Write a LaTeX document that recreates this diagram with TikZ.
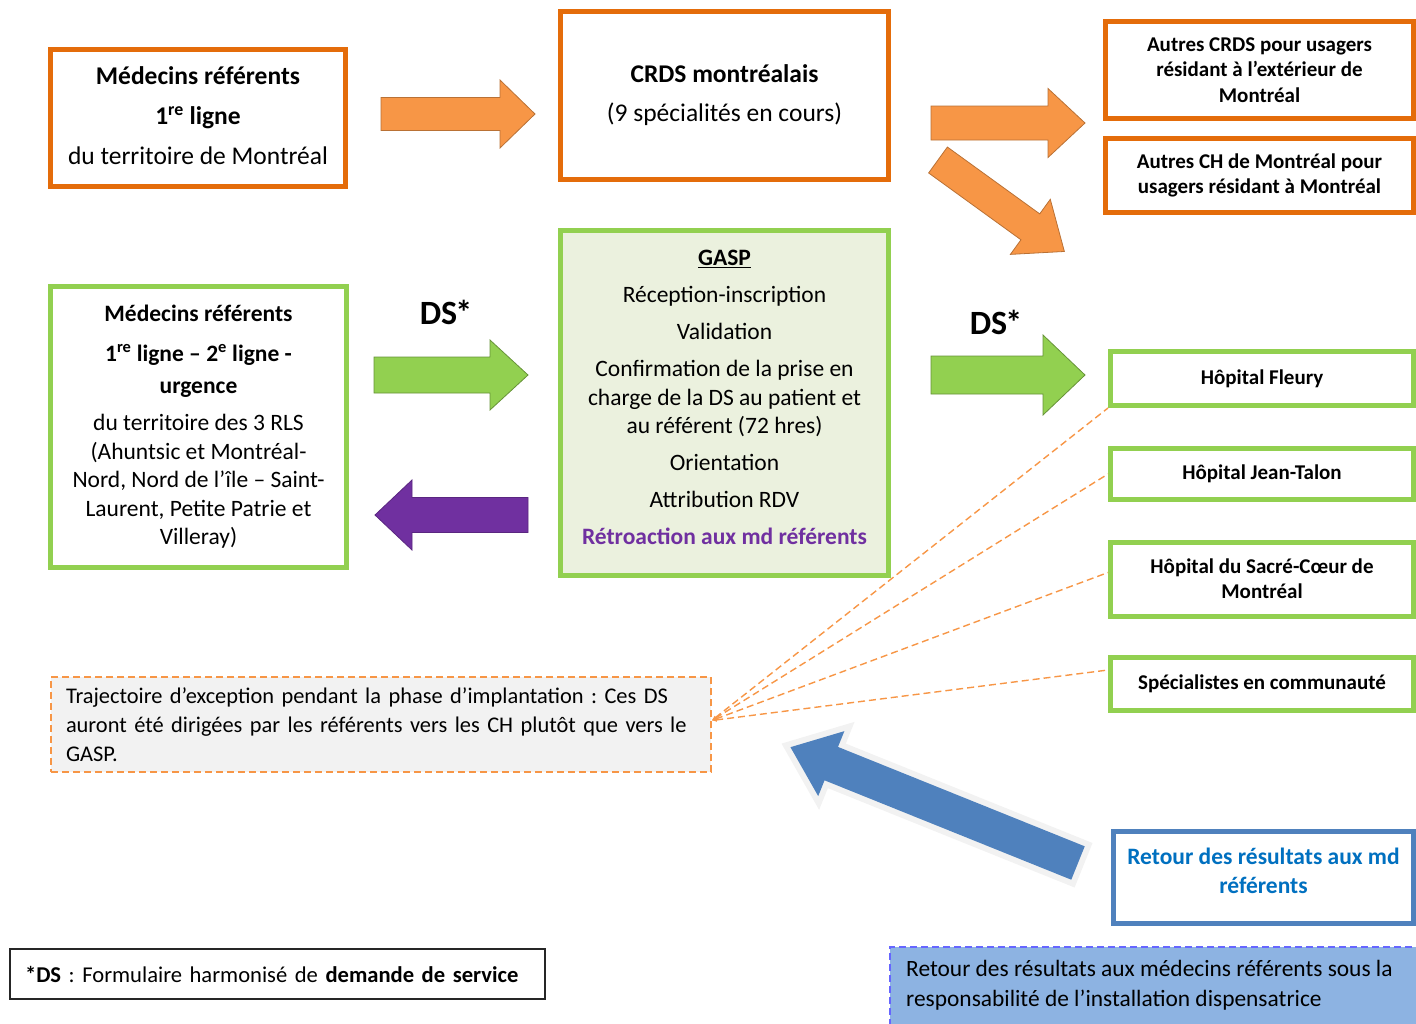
\documentclass[tikz,border=0pt]{standalone}
\usepackage{fontspec}
\setmainfont{Carlito}
\usetikzlibrary{arrows.meta,backgrounds,calc}
\frenchspacing

\definecolor{orangeBord}{HTML}{E46C0A}
\definecolor{orangeFill}{HTML}{F79646}
\definecolor{vert}{HTML}{92D050}
\definecolor{vertPale}{HTML}{EBF1DE}
\definecolor{violet}{HTML}{7030A0}
\definecolor{bleuFl}{HTML}{4F81BD}
\definecolor{bleuTxt}{HTML}{0070C0}
\definecolor{bleuPale}{HTML}{8DB3E2}
\definecolor{bleuTiret}{RGB}{102,102,255}
\definecolor{grisPale}{HTML}{F2F2F2}

% block arrow: style, tail point, angle, length, half shaft, half head, head length
\newcommand\flecheBloc[7]{%
  \begin{scope}[shift={(#2)}, rotate=#3]
    \path[#1] (0,-#5) -- ({#4-#7},-#5) -- ({#4-#7},-#6) -- (#4,0)
      -- ({#4-#7},#6) -- ({#4-#7},#5) -- (0,#5) -- cycle;
  \end{scope}}

\tikzset{
  cadre/.style={draw, line width=5pt, fill=white, align=center, inner sep=0pt},
  cadreOr/.style={cadre, draw=orangeBord},
  cadreVert/.style={cadre, draw=vert},
  txtA/.style={font=\fontsize{25.5}{31}\selectfont},
  txtP/.style={font=\fontsize{23.5}{28.5}\selectfont},
  txtD/.style={font=\bfseries\fontsize{21}{25.5}\selectfont},
  flecheOr/.style={fill=orangeFill, draw=orangeFill!75!black, line width=0.8pt},
  flecheVert/.style={fill=vert, draw=vert!70!black, line width=0.8pt},
  flecheViol/.style={fill=violet, draw=violet!80!black, line width=0.8pt},
  lienExc/.style={draw=orangeFill, line width=1.4pt, dash pattern=on 7pt off 4pt,
    {Latex[length=5pt,width=4pt]}-},
  labelDS/.style={font=\bfseries\fontsize{34}{34}\selectfont, inner sep=0pt}
}

\begin{document}
\begin{tikzpicture}[x=1pt,y=-1pt]
\useasboundingbox (0,0) rectangle (1416,1023);

% ---- top row: CRDS flow
\node[cadreOr, txtA, minimum width=295pt, minimum height=137pt, text depth=4pt] (medA) at (198,118)
  {\textbf{Médecins référents}\\[9pt]\textbf{1\textsuperscript{re} ligne}\\[9pt]du territoire de Montréal};
\node[cadreOr, txtA, minimum width=328pt, minimum height=168pt] (crds) at (724.5,95.5)
  {\textbf{CRDS montréalais}\\[8pt](9 spécialités en cours)};
\node[cadreOr, txtD, minimum width=308pt, minimum height=97pt] (autCRDS) at (1259.5,70)
  {Autres CRDS pour usagers\\résidant à l’extérieur de\\Montréal};
\node[cadreOr, txtD, minimum width=308pt, minimum height=74pt] (autCH) at (1259.5,175.5)
  {Autres CH de Montréal pour\\usagers résidant à Montréal};

\flecheBloc{flecheOr}{381,114}{0}{154}{16.5}{34}{35}
\flecheBloc{flecheOr}{931,123}{0}{154}{17}{34.5}{37}
\flecheBloc{flecheOr}{938,160}{-35.9}{156}{16}{34}{42}

% ---- middle row: GASP flow
\node[cadreVert, txtP, minimum width=296pt, minimum height=281pt] (medB) at (198.5,427)
  {\textbf{Médecins référents}\\[11.5pt]
   \textbf{1\textsuperscript{re} ligne – 2\textsuperscript{e} ligne -}\\[3.5pt]
   \textbf{urgence}\\[8.5pt]
   du territoire des 3 RLS\\(Ahuntsic et Montréal-\\Nord, Nord de l’île – Saint-\\Laurent, Petite Patrie et\\Villeray)};
\node[cadreVert, fill=vertPale, txtP, minimum width=328pt, minimum height=345pt, text depth=11pt] (gasp) at (724.5,403)
  {\underline{\textbf{GASP}}\\[9pt]Réception-inscription\\[8.5pt]Validation\\[8.5pt]
   Confirmation de la prise en\\charge de la DS au patient et\\au référent (72 hres)\\[8.5pt]
   Orientation\\[8.5pt]Attribution RDV\\[8.5pt]
   \textcolor{violet}{\textbf{Rétroaction aux md référents}}};

\node[labelDS] (ds1) at (446,312) {DS\kern-2pt*};
\node[labelDS] (ds2) at (996,322) {DS\kern-2pt*};

\flecheBloc{flecheVert}{374,375}{0}{154}{18}{35}{38}
\flecheBloc{flecheViol}{528,515}{180}{153}{17.5}{35}{37}
\flecheBloc{flecheVert}{931,375}{0}{154}{19}{40}{42}

% ---- care providers
\node[cadreVert, txtD, minimum width=303pt, minimum height=54pt, text depth=3pt] (fleury) at (1262,378.5) {Hôpital Fleury};
\node[cadreVert, txtD, minimum width=303pt, minimum height=51pt] (jean) at (1262,474) {Hôpital Jean-Talon};
\node[cadreVert, txtD, minimum width=303pt, minimum height=74pt, text depth=2pt] (sacre) at (1262,579.5) {Hôpital du Sacré-Cœur de\\Montréal};
\node[cadreVert, txtD, minimum width=303pt, minimum height=53pt] (spec) at (1262,684) {Spécialistes en communauté};

% ---- exception path
\node[draw=orangeFill, fill=grisPale, line width=1.4pt, dash pattern=on 7pt off 4pt,
      minimum width=660pt, minimum height=95pt, text width=636pt, inner xsep=12pt,
      align=left, font=\fontsize{22.4}{29}\selectfont] (exc) at (381,724.5)
  {\hspace*{3pt}Trajectoire d’exception pendant la phase d’implantation : Ces DS\\
   \hspace*{3pt}auront été dirigées par les référents vers les CH plutôt que vers le\\
   \hspace*{3pt}GASP.};
\coordinate (excp) at ([yshift=4pt]exc.east);
\draw[lienExc] (excp) -- (fleury.south west);
\draw[lienExc] (excp) -- (jean.west);
\draw[lienExc] (excp) -- ([yshift=7pt]sacre.west);
\draw[lienExc] (excp) -- ([yshift=14pt]spec.west);

% ---- results back to referring physicians
\flecheBloc{draw=grisPale, fill=grisPale, line width=12pt, line join=miter}{1078,863}{158.06}{310}{18}{35}{44}
\flecheBloc{fill=bleuFl}{1078,863}{158.06}{310}{18}{35}{44}
\node[cadre, draw=bleuFl, text=bleuTxt, font=\bfseries\fontsize{23.5}{29}\selectfont,
      minimum width=300pt, minimum height=92pt, text depth=14pt] (retour) at (1263.5,877.5)
  {Retour des résultats aux md\\référents};

% ---- footnote
\node[draw=black!85, line width=1.5pt, minimum width=535pt, minimum height=50pt,
      text width=505pt, inner xsep=15pt, align=left, font=\fontsize{22.6}{26}\selectfont] (note) at (277.5,974)
  {\textbf{*DS} : Formulaire harmonisé de \textbf{demande de service}};

% ---- responsibility note
\node[anchor=north west, align=left, inner xsep=16pt, inner ysep=13pt,
      font=\fontsize{23.4}{30}\selectfont] (resp) at (890,947)
  {Retour des résultats aux médecins référents sous la\\responsabilité de l’installation dispensatrice};
\begin{scope}[on background layer]
  \fill[bleuPale] (resp.north west) rectangle (1420,1030);
\end{scope}
\draw[draw=bleuTiret, line width=1.3pt, dash pattern=on 7pt off 4pt]
  ($(resp.north west)+(0,90)$) -- (resp.north west) -- ++(540,0);
\end{tikzpicture}
\end{document}
